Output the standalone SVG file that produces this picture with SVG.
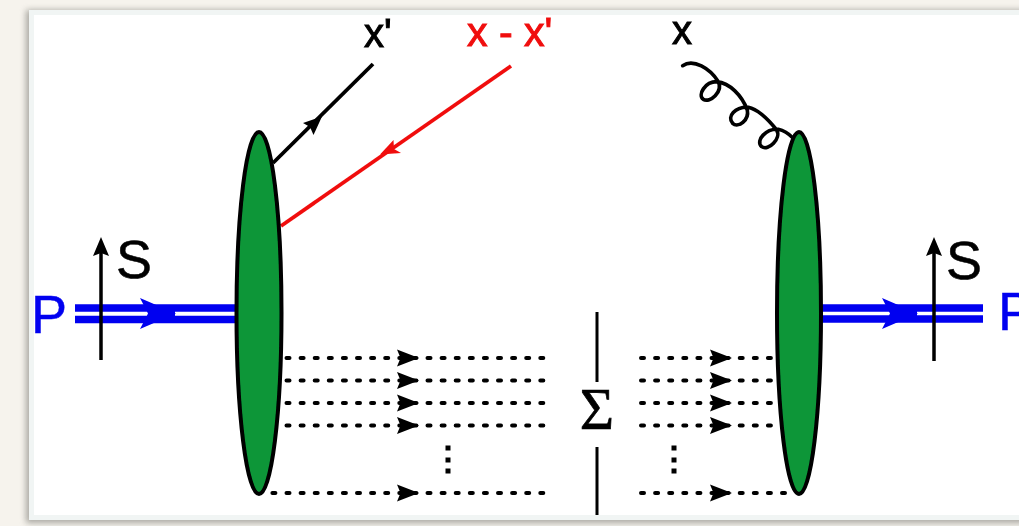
<svg xmlns="http://www.w3.org/2000/svg" width="1019" height="526" viewBox="0 0 1019 526">
<style>
.lbl{font-family:"Liberation Sans",Arial,sans-serif}
.blk{fill:#000}
.heavy{stroke-width:1;paint-order:stroke}
.dot{fill:none;stroke:#000;stroke-width:4;stroke-linecap:round;stroke-dasharray:3 11.1}
.vd{fill:none;stroke:#000;stroke-width:5}
.ell{fill:#0a9639;stroke:#000;stroke-width:4}
.blue{stroke:#0000f0;stroke-width:7.5;fill:none}
</style>
<defs>
<filter id="soft" x="-5%" y="-5%" width="110%" height="110%"><feGaussianBlur stdDeviation="0.6"/></filter>
<filter id="shadow" x="-5%" y="-5%" width="110%" height="110%"><feGaussianBlur stdDeviation="3"/></filter>
<path id="dh" d="M0,-8.500 L22,0 L0,8.500 L3.500,0 Z" fill="#000"/>
</defs>
<rect width="1019" height="526" fill="#f6f3ed"/>
<rect x="26" y="10" width="1010" height="513" fill="#77766f" opacity="0.6" filter="url(#shadow)"/>
<rect x="29" y="10" width="1000" height="510" fill="#f1f5f4"/>
<rect x="34" y="15" width="990" height="500" fill="#fff"/>
<g filter="url(#soft)">
<g id="connectors">
<g id="proton-in">
<path class="blue" d="M75,308H236M75,319.500H236"/>
<path d="M140,298 L176,313.500 L140,329 L148,313.500 Z" fill="#0000f0"/>
<path d="M150,309H175V318H150Z" fill="#0000f0"/>
</g>
<g id="proton-out">
<path class="blue" d="M821,308H983M821,319H983"/>
<path d="M882,298 L918,313.500 L882,329 L890,313.500 Z" fill="#0000f0"/>
<path d="M892,309H917V318H892Z" fill="#0000f0"/>
</g>
<g id="spin-in"><path d="M101,360V250" stroke="#000" stroke-width="3.500"/><path d="M101,237 L109,256 L101,253 L93,256 Z" fill="#000"/></g>
<g id="spin-out"><path d="M934,361V250" stroke="#000" stroke-width="3.500"/><path d="M934,237 L942,256 L934,253 L926,256 Z" fill="#000"/></g>
<g id="quark-x-prime"><path d="M273,163 L373,64" stroke="#000" stroke-width="3.800" fill="none"/><path d="M322,116.500 L303,123 L310,127 L313.500,135 Z" fill="#000"/></g>
<g id="quark-x-minus"><path d="M380,154.500 L393.500,140 L394,149 L401,153 Z" fill="#f01010"/><path d="M281,226 L511,66" stroke="#f01010" stroke-width="3.800" fill="none"/></g>
<path id="gluon" transform="translate(660 0) scale(0.3333)" d="M68,197 C100,175 150,205 175,245 C190,275 150,310 130,298 C112,285 135,245 170,245 C210,250 245,285 262,330 C268,360 235,385 218,370 C200,350 225,320 265,322 C300,330 330,365 350,390 C365,415 325,455 305,440 C285,420 320,385 355,388 C375,392 390,405 400,415" fill="none" stroke="#000" stroke-width="11" stroke-linecap="round"/>
<g id="cut-lines"><path d="M597,312V382M597,447V515" stroke="#000" stroke-width="3"/></g>
<g id="remnants-left">
<path class="dot" d="M286.500,358H545M286.500,380.500H545M286.500,403H545M286.500,425.500H545M272.400,493H545"/>
<use href="#dh" x="397" y="358"/><use href="#dh" x="397" y="380.500"/><use href="#dh" x="397" y="403"/><use href="#dh" x="397" y="425.500"/><use href="#dh" x="397" y="493"/>
</g>
<g id="remnants-right">
<path class="dot" d="M641,358H774M641,380.500H774M641,403H774M641,425.500H774M641,493H788"/>
<use href="#dh" x="710" y="358"/><use href="#dh" x="710" y="380.500"/><use href="#dh" x="710" y="403"/><use href="#dh" x="710" y="425.500"/><use href="#dh" x="710" y="493"/>
</g>
<g id="vdots-left"><path class="vd" d="M448,445.500v5M448,457.500v5M448,468.500v5"/></g>
<g id="vdots-right"><path class="vd" d="M674,445.500v5M674,457.500v5M674,468.500v5"/></g>
</g>
<g id="blob-left"><ellipse class="ell" cx="259" cy="313" rx="22.500" ry="181"/></g>
<g id="blob-right"><ellipse class="ell" cx="799" cy="313" rx="22" ry="181"/></g>
<g id="labels">
<text class="lbl blk heavy" stroke="#000" x="364" y="47" font-size="40">x'</text>
<text class="lbl heavy" stroke="#f01010" x="467" y="46" font-size="41" fill="#f01010">x - x'</text>
<text class="lbl blk heavy" stroke="#000" x="672" y="44" font-size="40">x</text>
<text class="lbl blk" stroke="#000" stroke-width="0.500" x="116" y="278" font-size="54">S</text>
<text class="lbl blk" stroke="#000" stroke-width="0.500" x="946" y="279" font-size="54">S</text>
<text class="lbl" stroke="#0000f0" stroke-width="0.500" x="31" y="333" font-size="54" fill="#0000f0">P</text>
<text class="lbl" stroke="#0000f0" stroke-width="0.500" x="998" y="330" font-size="54" fill="#0000f0">P</text>
<text x="597" y="429" font-size="59" stroke="#000" stroke-width="0.700" text-anchor="middle" font-family="'Liberation Serif','Times New Roman',serif" fill="#000">Σ</text>
</g>
</g>
</svg>
